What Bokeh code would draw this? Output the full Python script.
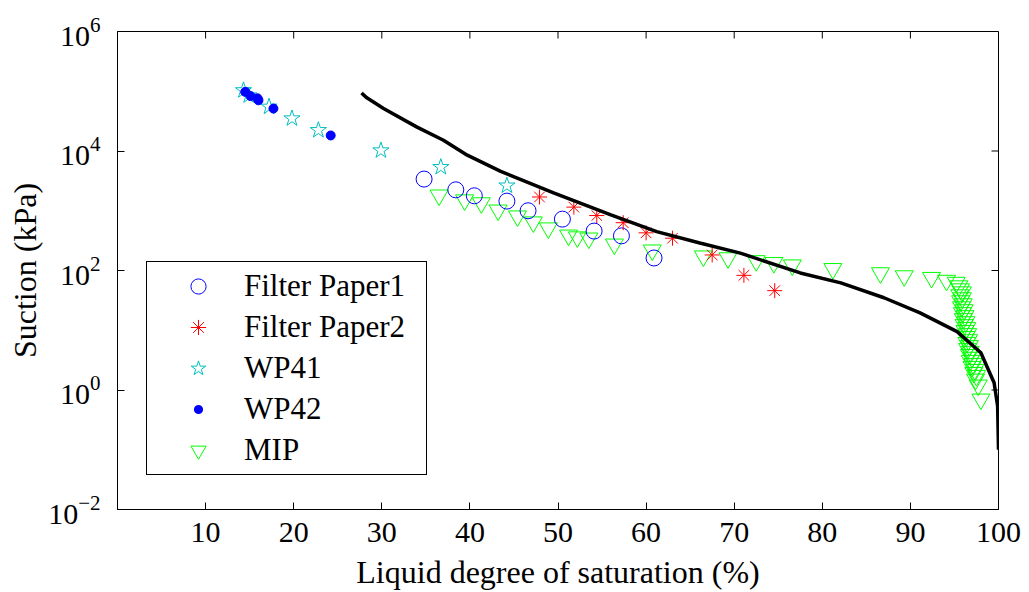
import math
from bokeh.plotting import figure
from bokeh.models import (FixedTicker, Legend, LegendItem, Range1d, LogTickFormatter,
                          ColumnDataSource)
from bokeh.embed import file_html
from bokeh.resources import INLINE

FONT = "Liberation Serif"

# ---------------- data ----------------
x_ticks = [10, 20, 30, 40, 50, 60, 70, 80, 90, 100]
y_ticks = [1e-2, 1e0, 1e2, 1e4, 1e6]

fp1_x = [34.8, 38.4, 40.5, 44.2, 46.6, 50.5, 54.1, 57.2, 60.9]
fp1_y = [3390, 2240, 1780, 1450, 1000, 724, 457, 380, 162]

fp2_x = [47.9, 51.8, 54.4, 57.4, 60.0, 63.0, 67.5, 71.1, 74.6]
fp2_y = [1700, 1150, 832, 631, 427, 347, 182, 83, 46]

wp41_x = [14.3, 14.9, 17.2, 19.8, 22.8, 29.9, 36.7, 44.2]
wp41_y = [103500, 85000, 55000, 35000, 22300, 10200, 5370, 2630]

wp42_x = [14.5, 15.1, 15.9, 16.0, 17.7, 24.2]
wp42_y = [97700, 83000, 76000, 70600, 51300, 18200]

mip_x = [36.5, 39.4, 41.3, 43.2, 45.4, 47.2, 48.9, 51.2, 52.2, 53.5, 56.4, 60.7,
         66.5, 69.3, 72.5, 74.5, 76.6, 81.2, 86.6, 89.3, 92.4, 94.1,
         95.2, 95.5, 95.7, 95.9, 95.6, 95.9, 95.7, 96.0, 95.8, 96.1, 95.9, 96.2,
         96.0, 96.3, 96.1, 96.4, 96.2, 96.5, 96.3, 96.6, 96.4, 96.7, 96.5, 96.8,
         96.7, 97.0, 96.8, 97.1, 97.0, 97.3, 97.2, 97.5, 97.4, 97.7, 98.0]
mip_y = [1820, 1510, 1350, 1020, 813, 646, 513, 389, 363, 347, 275, 219,
         174, 162, 145, 135, 123, 107, 91, 81, 76, 68,
         63, 55, 49, 43.6, 38.9, 34.7, 30.9, 27.5, 24.5, 21.9, 19.5, 17.4,
         15.5, 13.8, 12.3, 11.0, 9.8, 8.7, 7.8, 6.9, 6.2, 5.5, 4.9, 4.4,
         3.9, 3.5, 3.1, 2.75, 2.45, 2.19, 1.95, 1.74, 1.51, 1.2, 0.7]

line_x = [27.7, 28.3, 30.2, 34.0, 37.0, 39.7, 43.5, 49.5, 56.0, 61.2, 66.1, 70.7,
          77.5, 82.1, 87.0, 91.1, 95.3, 98.0, 99.5, 99.9, 100.0]
line_y = [93300, 77600, 51300, 25100, 15100, 8510, 4570, 2000, 851, 447, 288, 195,
          91, 62, 35, 19.5, 9.5, 4.2, 1.32, 0.54, 0.1]

# ---------------- figure ----------------
p = figure(width=1025, height=592,
           x_range=Range1d(0, 100), y_range=Range1d(1e-2, 1e6),
           y_axis_type="log", output_backend="svg", toolbar_location=None,
           min_border_left=117, min_border_right=27, min_border_top=31,
           min_border_bottom=82)
p.background_fill_color = "white"
p.border_fill_color = "white"
p.outline_line_color = "black"
p.outline_line_width = 1
p.grid.visible = False


def style_axis(ax):
    ax.axis_line_color = "black"
    ax.axis_line_width = 1
    ax.major_tick_line_color = "black"
    ax.major_tick_in = 7
    ax.major_tick_out = 0
    ax.minor_tick_line_color = None
    ax.major_label_text_font = FONT
    ax.major_label_text_font_size = "30px"
    ax.major_label_text_color = "black"
    ax.axis_label_text_font = FONT
    ax.axis_label_text_font_size = "32px"
    ax.axis_label_text_font_style = "normal"
    ax.axis_label_text_color = "black"


xa = p.xaxis[0]
style_axis(xa)
xa.ticker = FixedTicker(ticks=x_ticks)
xa.axis_label = "Liquid degree of saturation (%)"
xa.major_label_standoff = 13
xa.axis_label_standoff = 9

ya = p.yaxis[0]
style_axis(ya)
ya.ticker = FixedTicker(ticks=y_ticks)
ya.formatter = LogTickFormatter()
ya.axis_label = "Suction (kPa)"
ya.major_label_standoff = 17
ya.axis_label_standoff = 2

wp42_src = ColumnDataSource(dict(x=wp42_x, y=wp42_y))

# legend swatch for WP42: drawn first (white rim on white background, hidden under
# the real dots), gives a smaller dot in the legend
r_wp42_key = p.scatter("x", "y", source=wp42_src, marker="circle", size=9,
                       fill_color="#0000FF", line_color="white", line_width=6)

# inward ticks on the top and right edges of the frame
p.ray(x=x_ticks, y=[y_ticks[-1]] * len(x_ticks), length=7, length_units="screen",
      angle=-math.pi / 2, line_color="black", line_width=1)
p.ray(x=[x_ticks[-1]] * len(y_ticks), y=y_ticks, length=7, length_units="screen",
      angle=math.pi, line_color="black", line_width=1)

# ---------------- glyphs ----------------
r_mip = p.scatter(mip_x, mip_y, marker="inverted_triangle", size=18,
                  fill_color=None, line_color="#00FF00", line_width=1)
r_fp1 = p.scatter(fp1_x, fp1_y, marker="circle", size=16,
                  fill_color=None, line_color="#0000FF", line_width=1)
r_fp2 = p.scatter(fp2_x, fp2_y, marker="asterisk", size=15,
                  line_color="#FF0000", line_width=1)
r_wp41 = p.scatter(wp41_x, wp41_y, marker="star", size=17,
                   fill_color=None, line_color="#00BFBF", line_width=1)
r_wp42 = p.scatter("x", "y", source=wp42_src, marker="circle", size=9,
                   fill_color="#0000FF", line_color="#0000FF")
p.line(line_x, line_y, line_color="black", line_width=3.5)

legend = Legend(items=[
    LegendItem(label="Filter Paper1", renderers=[r_fp1]),
    LegendItem(label="Filter Paper2", renderers=[r_fp2]),
    LegendItem(label="WP41", renderers=[r_wp41]),
    LegendItem(label="WP42", renderers=[r_wp42_key]),
    LegendItem(label="MIP", renderers=[r_mip]),
], location=(29, 34))
legend.border_line_color = "black"
legend.border_line_alpha = 1
legend.border_line_width = 1
legend.background_fill_color = "white"
legend.background_fill_alpha = 1
legend.padding = 5
legend.spacing = 3
legend.margin = 0
legend.glyph_width = 92
legend.glyph_height = 38
legend.label_standoff = 0
legend.label_width = 177
legend.label_height = 38
legend.label_text_font = FONT
legend.label_text_font_size = "31px"
legend.label_text_color = "black"
p.add_layout(legend)

open("out.html", "w").write(file_html(p, INLINE))
